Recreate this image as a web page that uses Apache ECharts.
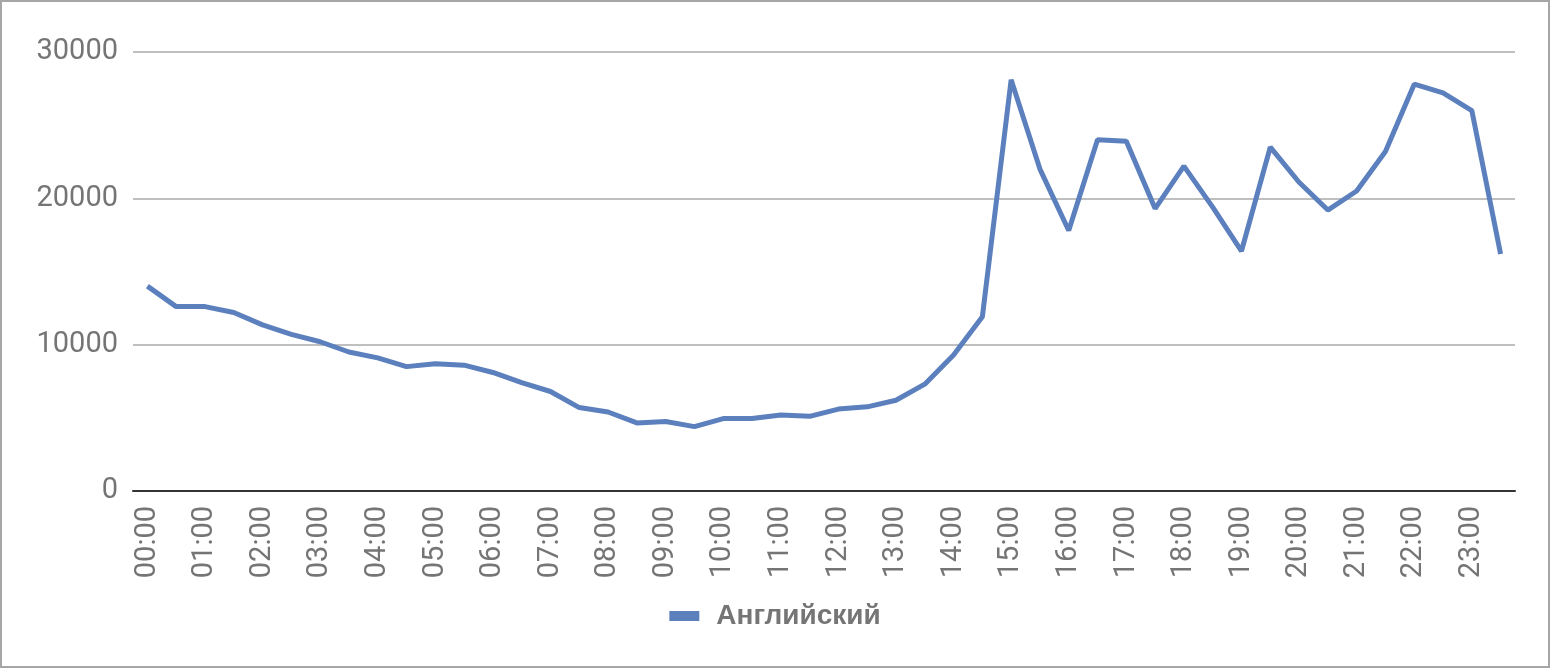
<!DOCTYPE html>
<html>
<head>
<meta charset="utf-8">
<script src="https://cdn.jsdelivr.net/npm/echarts@6/dist/echarts.min.js"></script>
<style>
html,body{margin:0;padding:0;background:#fff;}
#frame{position:absolute;left:0;top:0;width:1550px;height:668px;box-sizing:border-box;border:2px solid #a6a6a6;}
#chart{position:absolute;left:0;top:0;width:1550px;height:668px;}
</style>
</head>
<body>
<div id="chart"></div>
<div id="frame"></div>
<script>
const seriesName = 'Английский';
const categories = [
 '00:00','00:30','01:00','01:30','02:00','02:30','03:00','03:30',
 '04:00','04:30','05:00','05:30','06:00','06:30','07:00','07:30',
 '08:00','08:30','09:00','09:30','10:00','10:30','11:00','11:30',
 '12:00','12:30','13:00','13:30','14:00','14:30','15:00','15:30',
 '16:00','16:30','17:00','17:30','18:00','18:30','19:00','19:30',
 '20:00','20:30','21:00','21:30','22:00','22:30','23:00','23:30'
];
const values = [
 14000,12600,12600,12200,11350,10700,10200,9500,
 9100,8500,8700,8600,8100,7400,6800,5700,
 5400,4650,4750,4400,4950,4950,5200,5100,
 5600,5750,6200,7300,9300,11900,28100,22000,
 17800,24000,23900,19300,22200,19400,16400,23500,
 21100,19200,20500,23200,27800,27200,26000,16200
];
const yTicks = {min:0, max:30000, interval:10000};

const chart = echarts.init(document.getElementById('chart'));
chart.setOption({
  animation:false,
  textStyle:{fontFamily:'Roboto'},
  grid:{left:133,right:35,top:52,bottom:177,containLabel:false},
  legend:{
    data:[seriesName],
    bottom:33,
    left:'center',
    itemWidth:30,itemHeight:10,itemGap:10,
    icon:'rect',
    textStyle:{fontSize:28,fontWeight:'bold',color:'#757575',fontFamily:'Liberation Sans',padding:[0,0,0,12]}
  },
  xAxis:{
    type:'category',
    data:categories,
    boundaryGap:true,
    axisLine:{lineStyle:{color:'#333',width:2}},
    axisTick:{show:false},
    axisLabel:{interval:1,rotate:90,color:'#757575',fontSize:29,margin:15,fontFamily:'Roboto'}
  },
  yAxis:{
    type:'value',
    min:yTicks.min,max:yTicks.max,interval:yTicks.interval,
    axisLine:{show:false},
    axisTick:{show:false},
    splitLine:{lineStyle:{color:'#bfbfbf',width:2}},
    axisLabel:{color:'#757575',fontSize:29,margin:15,fontFamily:'Roboto',formatter:function(v){return String(v);}}
  },
  series:[{
    name:seriesName,
    type:'line',
    data:values,
    symbol:'none',
    lineStyle:{color:'#5b80bd',width:5},
    itemStyle:{color:'#5b80bd'}
  }]
});
</script>
</body>
</html>
